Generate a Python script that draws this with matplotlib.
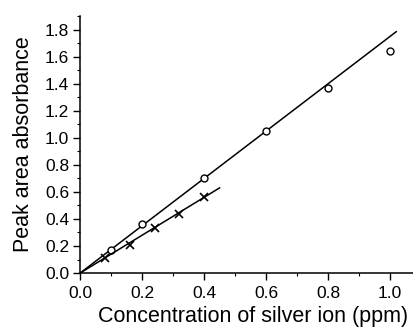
import numpy as np
import matplotlib.pyplot as plt
from matplotlib.ticker import MultipleLocator

plt.rcParams['font.family'] = ['Liberation Sans', 'DejaVu Sans']

# circles: first series
conc_a = [0.1, 0.2, 0.4, 0.6, 0.8, 1.0]
abs_a = [0.17, 0.36, 0.70, 1.05, 1.37, 1.64]
fit_a_x = [0.0, 1.02]
fit_a_y = [0.0, 1.785]

# crosses: second series
conc_b = [0.08, 0.16, 0.24, 0.32, 0.40]
abs_b = [0.11, 0.21, 0.33, 0.44, 0.565]
fit_b_x = [0.0, 0.45]
fit_b_y = [0.0, 0.63]

fig = plt.figure(figsize=(4.13, 3.29), dpi=100)
ax = fig.add_axes([0.194, 0.170, 0.806, 0.781])

ax.plot(fit_a_x, fit_a_y, color='black', lw=1.1)
ax.plot(conc_a, abs_a, 'o', mfc='white', mec='black', ms=5, mew=1.0)
ax.plot(fit_b_x, fit_b_y, color='black', lw=1.1)
ax.plot(conc_b, abs_b, 'x', color='black', ms=6, mew=1.2)

ax.set_xlim(0, 1.074)
ax.set_ylim(0, 1.9)
ax.xaxis.set_major_locator(MultipleLocator(0.2))
ax.xaxis.set_minor_locator(MultipleLocator(0.1))
ax.yaxis.set_major_locator(MultipleLocator(0.2))
ax.yaxis.set_minor_locator(MultipleLocator(0.1))
ax.xaxis.set_major_formatter(plt.FormatStrFormatter('%.1f'))
ax.yaxis.set_major_formatter(plt.FormatStrFormatter('%.1f'))

for s in ['top', 'right']:
    ax.spines[s].set_visible(False)
for s in ['left', 'bottom']:
    ax.spines[s].set_linewidth(1.1)

ax.tick_params(which='major', length=5, width=1, labelsize=12.5, pad=3)
ax.tick_params(axis='x', which='major', pad=4)
ax.tick_params(which='minor', length=2.5, width=0.8)

ax.set_xlabel('Concentration of silver ion (ppm)', fontsize=15.5)
ax.set_ylabel('Peak area absorbance', fontsize=15.5, labelpad=8)
ax.xaxis.set_label_coords(0.52, -0.13)

fig.savefig('out.png', dpi=100)
